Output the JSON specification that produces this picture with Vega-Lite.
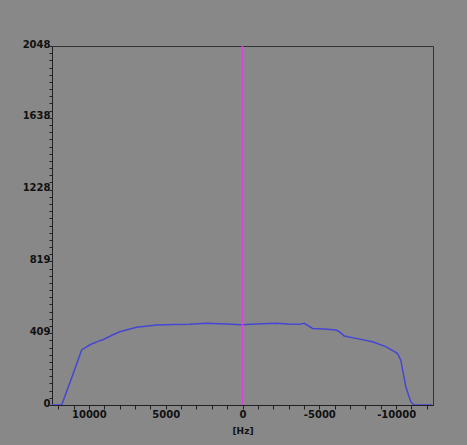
{
  "$schema": "https://vega.github.io/schema/vega-lite/v6.json",
  "width": 381,
  "height": 359,
  "autosize": {"type": "none"},
  "padding": {"left": 52, "top": 46, "right": 34, "bottom": 40},
  "background": "#888888",
  "config": {
    "view": {"stroke": "#333333", "strokeWidth": 1, "fill": "#888888"},
    "axis": {
      "domainColor": "#222222",
      "tickColor": "#222222",
      "labelColor": "#111111",
      "titleColor": "#111111",
      "labelFont": "DejaVu Sans",
      "titleFont": "DejaVu Sans",
      "labelFontSize": 10,
      "titleFontSize": 9,
      "labelFontWeight": "bold",
      "titleFontWeight": "bold",
      "grid": false
    }
  },
  "layer": [
    {
      "data": {
        "values": [
          {"freq": 12400, "amp": 0},
          {"freq": 11770, "amp": 0},
          {"freq": 11100, "amp": 160},
          {"freq": 10470, "amp": 314},
          {"freq": 9900, "amp": 345},
          {"freq": 9290, "amp": 367},
          {"freq": 9090, "amp": 372},
          {"freq": 8500, "amp": 398},
          {"freq": 7990, "amp": 418},
          {"freq": 6900, "amp": 443},
          {"freq": 5600, "amp": 456},
          {"freq": 4500, "amp": 459},
          {"freq": 3440, "amp": 460},
          {"freq": 2360, "amp": 466},
          {"freq": 1060, "amp": 462},
          {"freq": 80, "amp": 458},
          {"freq": -890, "amp": 462},
          {"freq": -2190, "amp": 466},
          {"freq": -3000, "amp": 462},
          {"freq": -3700, "amp": 460},
          {"freq": -4030, "amp": 466},
          {"freq": -4560, "amp": 437},
          {"freq": -5300, "amp": 433},
          {"freq": -6080, "amp": 428},
          {"freq": -6300, "amp": 418},
          {"freq": -6620, "amp": 394},
          {"freq": -7380, "amp": 380},
          {"freq": -8460, "amp": 361},
          {"freq": -9330, "amp": 333},
          {"freq": -10080, "amp": 295},
          {"freq": -10300, "amp": 257},
          {"freq": -10630, "amp": 104},
          {"freq": -10950, "amp": 19},
          {"freq": -11170, "amp": 0},
          {"freq": -12340, "amp": 0}
        ]
      },
      "mark": {"type": "line", "color": "#4646d4", "strokeWidth": 1.5, "clip": true},
      "encoding": {
        "x": {
          "field": "freq",
          "type": "quantitative",
          "scale": {"domain": [-12400, 12400], "reverse": true, "nice": false, "zero": false},
          "axis": {
            "title": "[Hz]",
            "titlePadding": 7,
            "values": [-12000, -11000, -10000, -9000, -8000, -7000, -6000, -5000, -4000, -3000, -2000, -1000, 0, 1000, 2000, 3000, 4000, 5000, 6000, 7000, 8000, 9000, 10000, 11000, 12000],
            "labelExpr": "datum.value % 5000 === 0 ? '' + datum.value : ''",
            "tickSize": 4,
            "labelPadding": 0,
            "labelOverlap": false,
            "labelFlush": false
          }
        },
        "y": {
          "field": "amp",
          "type": "quantitative",
          "scale": {"domain": [0, 2048], "nice": false},
          "axis": {
            "title": null,
            "values": [0, 40.96, 81.92, 122.88, 163.84, 204.8, 245.76, 286.72, 327.68, 368.64, 409.6, 450.56, 491.52, 532.48, 573.44, 614.4, 655.36, 696.32, 737.28, 778.24, 819.2, 860.16, 901.12, 942.08, 983.04, 1024, 1064.96, 1105.92, 1146.88, 1187.84, 1228.8, 1269.76, 1310.72, 1351.68, 1392.64, 1433.6, 1474.56, 1515.52, 1556.48, 1597.44, 1638.4, 1679.36, 1720.32, 1761.28, 1802.24, 1843.2, 1884.16, 1925.12, 1966.08, 2007.04, 2048],
            "labelExpr": "round(datum.value / 40.96) % 10 === 0 ? '' + floor(datum.value + 0.001) : ''",
            "tickSize": 3,
            "labelPadding": -1,
            "labelOffset": -2,
            "labelOverlap": false,
            "labelFlush": false
          }
        }
      }
    },
    {
      "data": {"values": [{"freq": 0}]},
      "mark": {"type": "rule", "color": "#e040e0", "strokeWidth": 1.5},
      "encoding": {
        "x": {
          "field": "freq",
          "type": "quantitative",
          "axis": {
            "title": "[Hz]",
            "titlePadding": 7,
            "values": [-12000, -11000, -10000, -9000, -8000, -7000, -6000, -5000, -4000, -3000, -2000, -1000, 0, 1000, 2000, 3000, 4000, 5000, 6000, 7000, 8000, 9000, 10000, 11000, 12000],
            "labelExpr": "datum.value % 5000 === 0 ? '' + datum.value : ''",
            "tickSize": 4,
            "labelPadding": 0,
            "labelOverlap": false,
            "labelFlush": false
          }
        }
      }
    }
  ]
}
